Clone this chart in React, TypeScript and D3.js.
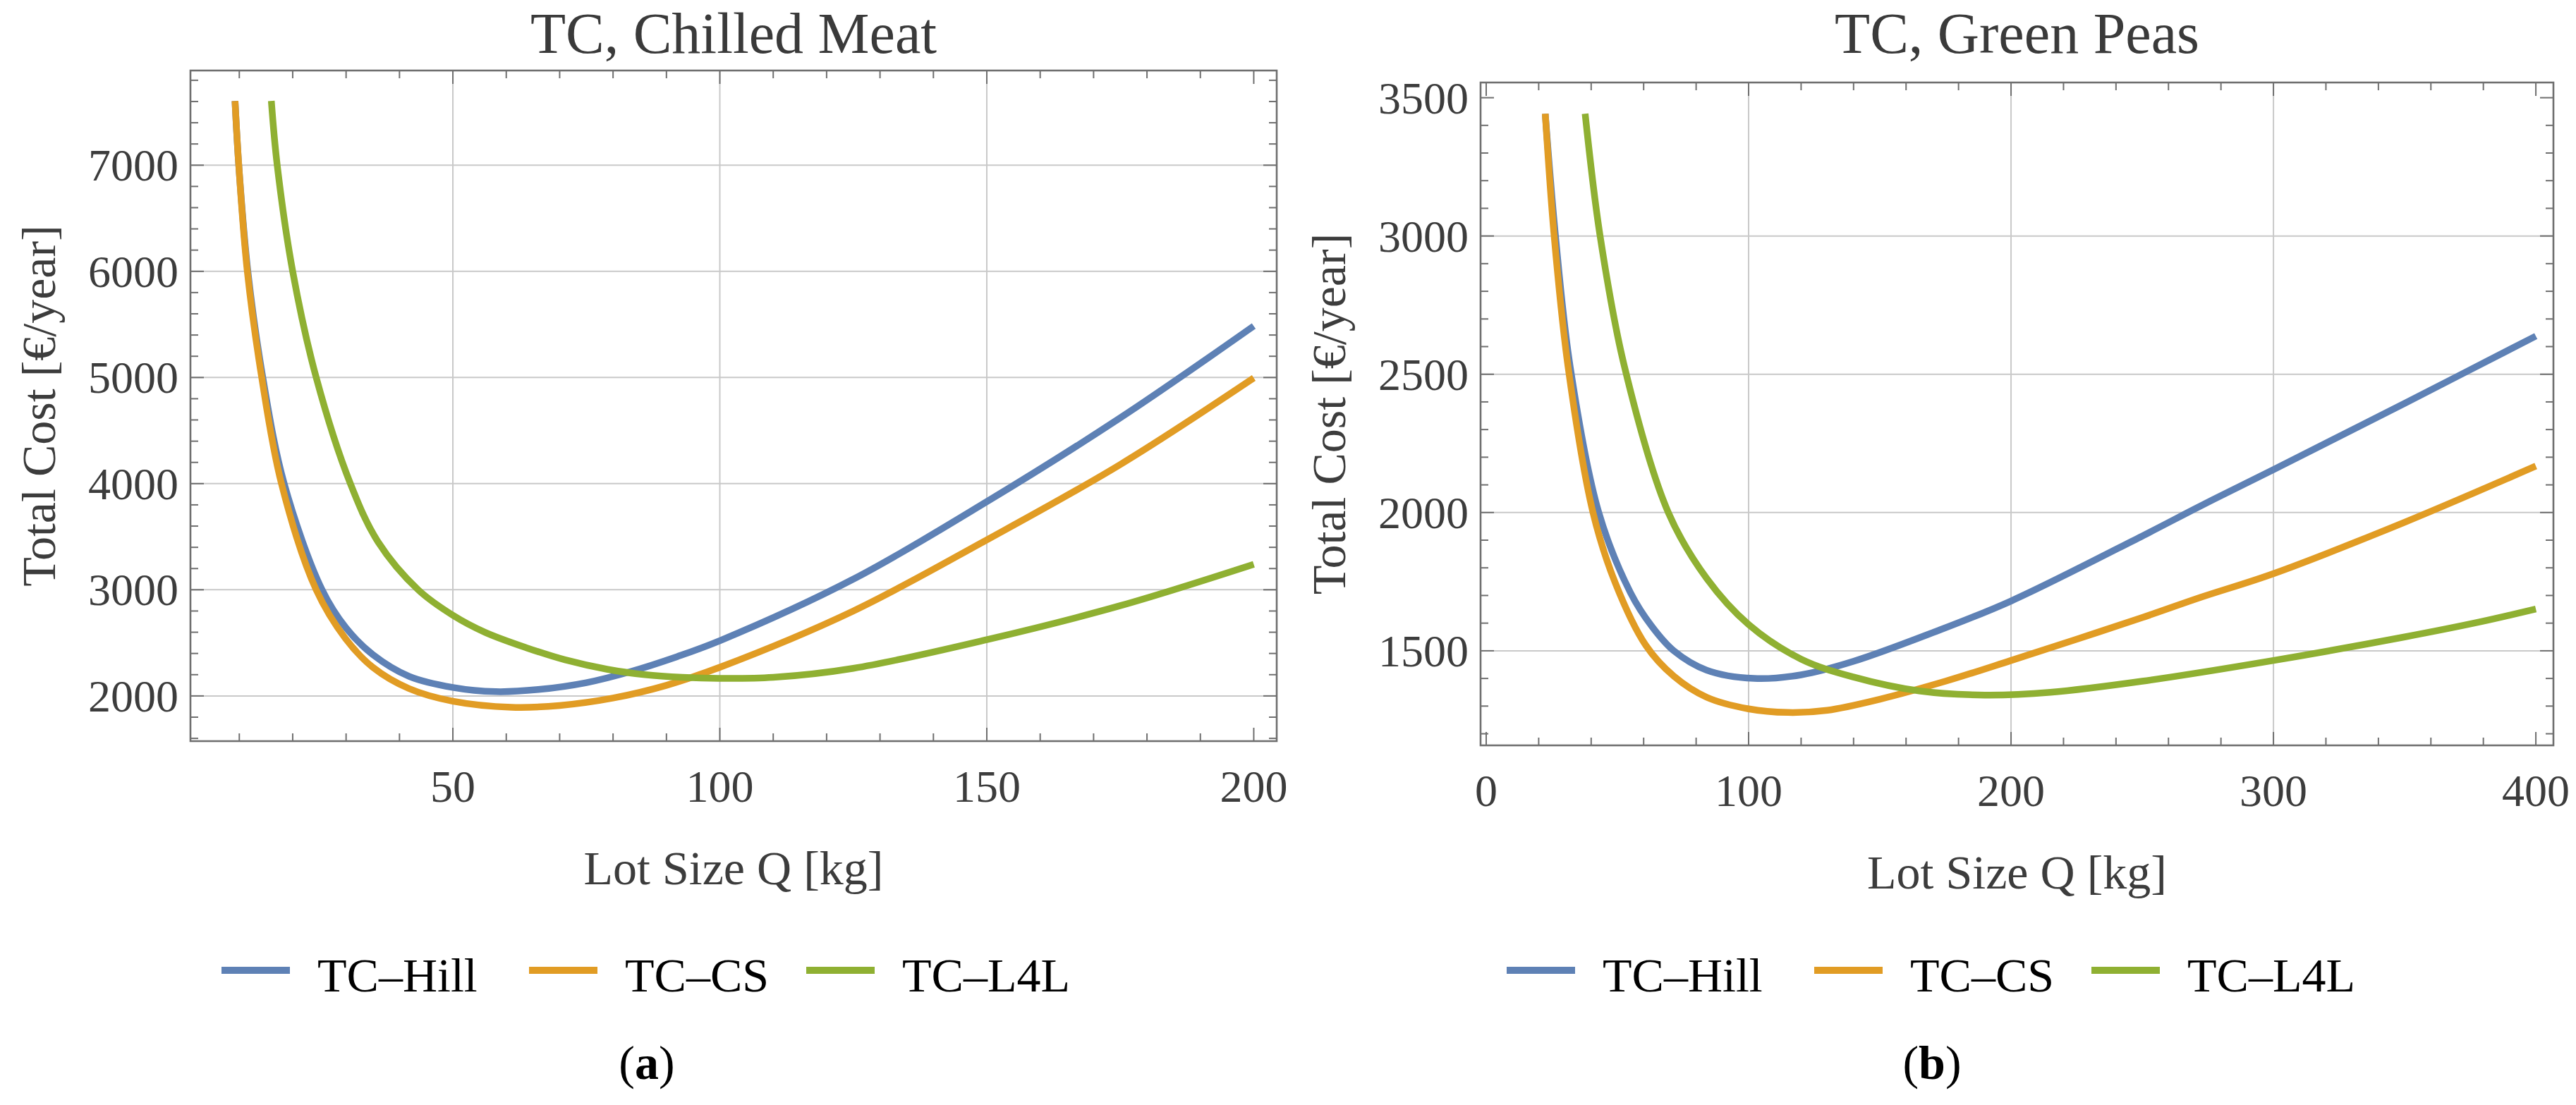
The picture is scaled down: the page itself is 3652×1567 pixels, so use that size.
import { useEffect, useRef } from "react";
import * as d3 from "d3";

type Pt = [number, number];

const seriesNames = ["TC–Hill", "TC–CS", "TC–L4L"];
const seriesColors = ["#5e81b5", "#e19c24", "#8fb032"];

// (a) Chilled Meat: lot size Q [kg] -> total cost [€/year]
const meatHill: Pt[] = [
  [9.2, 7605], [9.9, 7000], [11.6, 6000], [14.4, 5000], [18.4, 4000], [25.5, 3000],
  [30, 2640], [35, 2390], [41.8, 2185], [50, 2080], [58, 2040], [66, 2060],
  [75, 2125], [83, 2225], [92, 2370], [100, 2520], [125, 3100], [150, 3830],
  [175, 4620], [200, 5485],
];
const meatCS: Pt[] = [
  [9.2, 7605], [9.9, 7000], [11.5, 6000], [14.2, 5000], [17.9, 4000], [24.4, 3000],
  [29.9, 2540], [35, 2270], [41.8, 2069], [50, 1950], [61, 1893], [70, 1910],
  [80, 1980], [90, 2100], [100, 2270], [125, 2800], [150, 3470], [175, 4180],
  [200, 4995],
];
const meatL4L: Pt[] = [
  [16, 7605], [17.1, 7000], [20, 6000], [24.4, 5000], [30.8, 4000], [36, 3450],
  [43.5, 3000], [50, 2760], [56, 2600], [64, 2450], [71, 2340], [79, 2250],
  [86, 2200], [93, 2175], [100, 2165], [110, 2175], [125, 2260], [150, 2530],
  [175, 2850], [200, 3240],
];

// (b) Green Peas
const peasHill: Pt[] = [
  [22.5, 3442], [26.4, 3000], [32, 2527], [42.9, 2000], [55, 1710], [63, 1590],
  [71.5, 1500], [84, 1430], [102, 1400], [120, 1413], [140, 1462], [170, 1565],
  [200, 1680], [250, 1915], [272.5, 2025], [300, 2155], [350, 2395], [400, 2638],
];
const peasCS: Pt[] = [
  [22.5, 3442], [25.9, 3000], [31.2, 2527], [40.7, 2000], [49.2, 1745], [60.8, 1520],
  [71.5, 1408], [84, 1332], [100, 1290], [115, 1277], [130, 1285], [150, 1325],
  [175, 1390], [200, 1465], [225, 1542], [250, 1620], [272.5, 1694], [300, 1779],
  [350, 1965], [400, 2168],
];
const peasL4L: Pt[] = [
  [37.7, 3442], [43.4, 3000], [52.7, 2527], [69.4, 2000], [84, 1762], [100, 1595],
  [120, 1470], [140, 1405], [165, 1355], [190, 1340], [215, 1350], [250, 1390],
  [300, 1465], [350, 1550], [379, 1605], [400, 1651],
];

const meatXTicks = [50, 100, 150, 200];
const meatYTicks = [2000, 3000, 4000, 5000, 6000, 7000];
const peasXTicks = [0, 100, 200, 300, 400];
const peasYTicks = [1500, 2000, 2500, 3000, 3500];

const panels = [
  {
    title: "TC, Chilled Meat",
    tag: "a",
    series: [meatHill, meatCS, meatL4L],
    frame: { x0: 270, x1: 1810, y0: 100, y1: 1051 },
    xDomain: [0.85, 204.3],
    yDomain: [1574, 7892],
    xTicks: meatXTicks,
    yTicks: meatYTicks,
    xMinor: d3.range(10, 205, 10),
    yMinor: d3.range(1600, 7900, 200),
    xGrid: [50, 100, 150],
    yGrid: meatYTicks,
    legendX: 917,
  },
  {
    title: "TC, Green Peas",
    tag: "b",
    series: [peasHill, peasCS, peasL4L],
    frame: { x0: 2099, x1: 3620, y0: 117, y1: 1057 },
    xDomain: [-2.15, 406.7],
    yDomain: [1158, 3555],
    xTicks: peasXTicks,
    yTicks: peasYTicks,
    xMinor: d3.range(0, 405, 20),
    yMinor: d3.range(1200, 3556, 100),
    xGrid: [100, 200, 300],
    yGrid: [1500, 2000, 2500, 3000],
    legendX: 2739,
  },
];

const W = 3652;
const H = 1567;
const FONT = "'Liberation Serif', 'Times New Roman', serif";

export default function App() {
  const ref = useRef<SVGSVGElement>(null);

  useEffect(() => {
    const svg = d3.select(ref.current);
    svg.selectAll("*").remove();

    svg.append("rect").attr("width", W).attr("height", H).attr("fill", "#fff");

    panels.forEach((p) => {
      const { x0, x1, y0, y1 } = p.frame;
      const x = d3.scaleLinear().domain(p.xDomain).range([x0, x1]);
      const y = d3.scaleLinear().domain(p.yDomain).range([y1, y0]);
      const g = svg.append("g");

      // grid
      g.selectAll(".gx").data(p.xGrid).enter().append("line")
        .attr("x1", (d) => x(d)).attr("x2", (d) => x(d))
        .attr("y1", y0).attr("y2", y1)
        .attr("stroke", "#c9c9c9").attr("stroke-width", 2);
      g.selectAll(".gy").data(p.yGrid).enter().append("line")
        .attr("x1", x0).attr("x2", x1)
        .attr("y1", (d) => y(d)).attr("y2", (d) => y(d))
        .attr("stroke", "#c9c9c9").attr("stroke-width", 2);

      // curves
      const line = d3.line<Pt>()
        .x((d) => x(d[0]))
        .y((d) => y(d[1]))
        .curve(d3.curveCatmullRom.alpha(0.5));
      p.series.forEach((s, i) => {
        g.append("path")
          .datum(s)
          .attr("d", line)
          .attr("fill", "none")
          .attr("stroke", seriesColors[i])
          .attr("stroke-width", 9.5);
      });

      // ticks on all four sides
      const tickColor = "#6f6f6f";
      const xt = (vals: number[], len: number) => {
        vals.filter((v) => x(v) >= x0 && x(v) <= x1).forEach((v) => {
          g.append("line").attr("x1", x(v)).attr("x2", x(v))
            .attr("y1", y1).attr("y2", y1 - len)
            .attr("stroke", tickColor).attr("stroke-width", 2);
          g.append("line").attr("x1", x(v)).attr("x2", x(v))
            .attr("y1", y0).attr("y2", y0 + len)
            .attr("stroke", tickColor).attr("stroke-width", 2);
        });
      };
      const yt = (vals: number[], len: number) => {
        vals.filter((v) => y(v) >= y0 && y(v) <= y1).forEach((v) => {
          g.append("line").attr("y1", y(v)).attr("y2", y(v))
            .attr("x1", x0).attr("x2", x0 + len)
            .attr("stroke", tickColor).attr("stroke-width", 2);
          g.append("line").attr("y1", y(v)).attr("y2", y(v))
            .attr("x1", x1).attr("x2", x1 - len)
            .attr("stroke", tickColor).attr("stroke-width", 2);
        });
      };
      xt(p.xMinor.filter((v) => !p.xTicks.includes(v)), 11);
      xt(p.xTicks, 19);
      yt(p.yMinor.filter((v) => !p.yTicks.includes(v)), 11);
      yt(p.yTicks, 19);

      // frame
      g.append("rect")
        .attr("x", x0).attr("y", y0)
        .attr("width", x1 - x0).attr("height", y1 - y0)
        .attr("fill", "none").attr("stroke", tickColor).attr("stroke-width", 2.6);

      // tick labels
      g.selectAll(".xl").data(p.xTicks).enter().append("text")
        .attr("x", (d) => x(d)).attr("y", y1 + 86)
        .attr("text-anchor", "middle")
        .attr("font-family", FONT).attr("font-size", 64).attr("fill", "#3c3c3c")
        .text((d) => String(d));
      g.selectAll(".yl").data(p.yTicks).enter().append("text")
        .attr("x", x0 - 17).attr("y", (d) => y(d) + 22)
        .attr("text-anchor", "end")
        .attr("font-family", FONT).attr("font-size", 64).attr("fill", "#3c3c3c")
        .text((d) => String(d));

      // title and axis labels
      const cx = (x0 + x1) / 2;
      g.append("text")
        .attr("x", cx).attr("y", 75)
        .attr("text-anchor", "middle")
        .attr("font-family", FONT).attr("font-size", 82).attr("fill", "#3a3a3a")
        .text(p.title);
      g.append("text")
        .attr("x", cx).attr("y", y1 + 203)
        .attr("text-anchor", "middle")
        .attr("font-family", FONT).attr("font-size", 68).attr("fill", "#3c3c3c")
        .text("Lot Size Q [kg]");
      g.append("text")
        .attr("transform", `translate(${x0 - 192},${(y0 + y1) / 2}) rotate(-90)`)
        .attr("text-anchor", "middle")
        .attr("font-family", FONT).attr("font-size", 68).attr("fill", "#3c3c3c")
        .text("Total Cost [€/year]");

      // legend
      const swatchOffsets = [-603, -167, 226];
      seriesNames.forEach((name, i) => {
        const sx = p.legendX + swatchOffsets[i];
        g.append("line")
          .attr("x1", sx).attr("x2", sx + 97)
          .attr("y1", 1376).attr("y2", 1376)
          .attr("stroke", seriesColors[i]).attr("stroke-width", 10);
        g.append("text")
          .attr("x", sx + 136).attr("y", 1406)
          .attr("font-family", FONT).attr("font-size", 68).attr("fill", "#000")
          .text(name);
      });

      // sub-figure tag
      const tag = g.append("text")
        .attr("x", p.legendX).attr("y", 1530)
        .attr("text-anchor", "middle")
        .attr("font-family", FONT).attr("font-size", 68).attr("fill", "#000");
      tag.append("tspan").text("(");
      tag.append("tspan").attr("font-weight", "bold").text(p.tag);
      tag.append("tspan").text(")");
    });
  }, []);

  return (
    <svg
      ref={ref}
      width={W}
      height={H}
      style={{ position: "absolute", left: 0, top: 0 }}
    />
  );
}
